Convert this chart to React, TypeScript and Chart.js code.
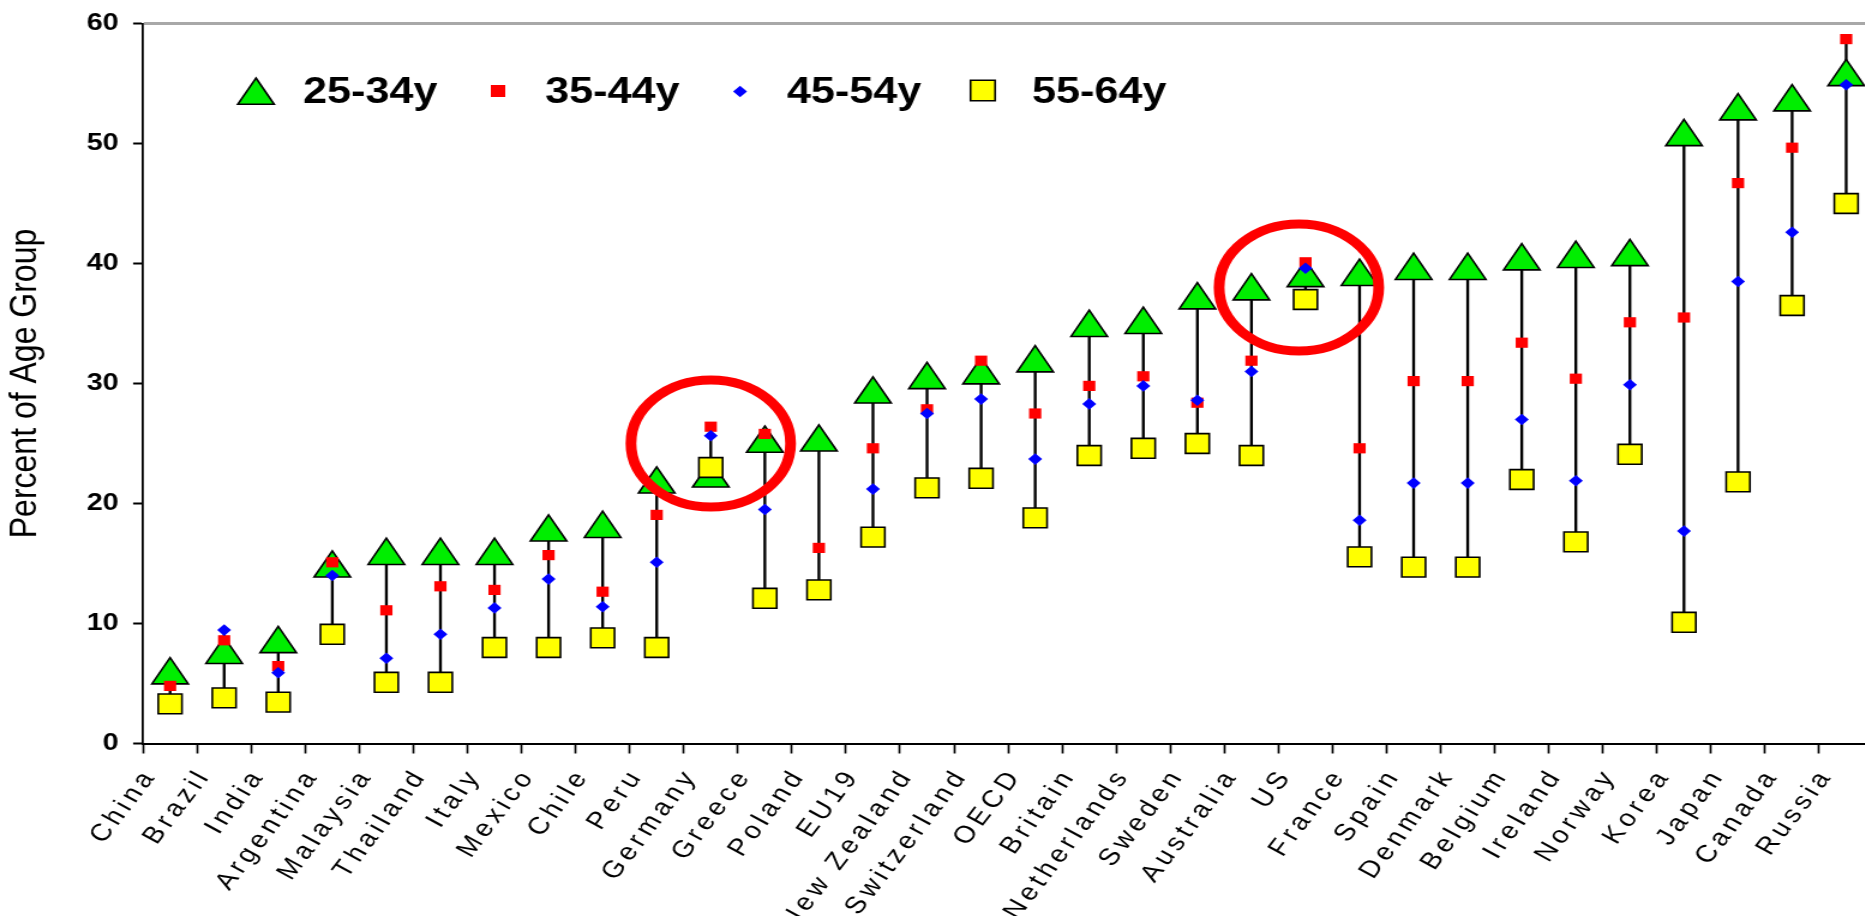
import React, { useEffect, useRef } from 'react';
import { Chart, registerables } from 'chart.js';

Chart.register(...registerables);

// ---------------- data ----------------
const categories = [
  'China', 'Brazil', 'India', 'Argentina', 'Malaysia', 'Thailand', 'Italy', 'Mexico',
  'Chile', 'Peru', 'Germany', 'Greece', 'Poland', 'EU19', 'New Zealand', 'Switzerland',
  'OECD', 'Britain', 'Netherlands', 'Sweden', 'Australia', 'US', 'France', 'Spain',
  'Denmark', 'Belgium', 'Ireland', 'Norway', 'Korea', 'Japan', 'Canada', 'Russia',
];

const seriesLabels = ['25-34y', '35-44y', '45-54y', '55-64y'];

const age25_34 = [
  5.7, 7.4, 8.3, 14.6, 15.65, 15.65, 15.65, 17.6,
  17.9, 21.6, 22.1, 25.0, 25.1, 29.1, 30.3, 30.7,
  31.7, 34.65, 34.9, 36.95, 37.7, 38.8, 38.9, 39.4,
  39.4, 40.2, 40.4, 40.55, 50.55, 52.7, 53.45, 55.55,
];

const age35_44 = [
  4.8, 8.6, 6.45, 15.1, 11.1, 13.1, 12.8, 15.7,
  12.65, 19.05, 26.4, 25.8, 16.3, 24.6, 27.85, 31.9,
  27.5, 29.8, 30.6, 28.4, 31.9, 40.1, 24.6, 30.2,
  30.2, 33.4, 30.4, 35.1, 35.5, 46.7, 49.65, 58.7,
];

const age45_54 = [
  3.6, 9.45, 5.9, 14.0, 7.1, 9.1, 11.3, 13.7,
  11.4, 15.1, 25.65, 19.5, 12.5, 21.2, 27.5, 28.7,
  23.7, 28.3, 29.8, 28.6, 31.0, 39.6, 18.6, 21.7,
  21.7, 27.0, 21.9, 29.9, 17.7, 38.5, 42.6, 54.9,
];

const age55_64 = [
  3.3, 3.8, 3.45, 9.1, 5.1, 5.1, 8.0, 8.0,
  8.8, 8.0, 23.0, 12.1, 12.8, 17.2, 21.3, 22.1,
  18.8, 24.0, 24.6, 25.0, 24.0, 37.0, 15.55, 14.7,
  14.7, 22.0, 16.8, 24.1, 10.1, 21.8, 36.5, 45.0,
];

const yTicks = [0, 10, 20, 30, 40, 50, 60];

// highlighted (circled) categories and the value at the centre of each circle
const highlightCategories = ['Germany', 'US'];
const highlightCentres = [25, 38];

// ---------------- layout / style ----------------
const FULL_W = 1865;
const H = 916;
const STRETCH = 1.2;
const CW = 1561;
const PLOT_LEFT = 119.2;
const PLOT_TOP = 23.5;
const PLOT_BOTTOM = 743.5;
const FONT = "'Liberation Sans', Arial, sans-serif";

type MarkerStyle = 'triangle' | 'rect' | 'rectRot';

const markerStyles: { style: MarkerStyle; r: number; legendR: number; fill: string; border: string; bw: number }[] = [
  { style: 'triangle', r: 17.5, legendR: 17.5, fill: '#00ee00', border: '#000000', bw: 1.6 },
  { style: 'rect', r: 7.2, legendR: 8.5, fill: '#ff0000', border: '#ff0000', bw: 0 },
  { style: 'rectRot', r: 5.8, legendR: 5.8, fill: '#0000ff', border: '#0000ff', bw: 0 },
  { style: 'rect', r: 14, legendR: 14.5, fill: '#ffff00', border: '#000000', bw: 1.6 },
];

// legend item geometry (unstretched canvas px)
const legendMarkerPos = [
  { x: 213.3, y: 95.5 },
  { x: 415, y: 91 },
  { x: 616.7, y: 91.5 },
  { x: 819, y: 90.5 },
];
const legendTextX = [252.5, 454.2, 655.8, 860];
const LEGEND_BASELINE = 103;

const RING_RX = 66.5;
const RING_RY = 63.5;
const RING_WIDTH = 9;
const RING_X_SHIFT = [0, -5.5];

function drawMarker(
  ctx: CanvasRenderingContext2D,
  style: MarkerStyle,
  x: number,
  y: number,
  r: number,
  fill: string,
  stroke: string,
  lw: number,
) {
  ctx.beginPath();
  if (style === 'triangle') {
    ctx.moveTo(x, y - r);
    ctx.lineTo(x + r * Math.sin((2 * Math.PI) / 3), y - r * Math.cos((2 * Math.PI) / 3));
    ctx.lineTo(x - r * Math.sin((2 * Math.PI) / 3), y - r * Math.cos((2 * Math.PI) / 3));
    ctx.closePath();
  } else if (style === 'rect') {
    const s = r * Math.SQRT1_2;
    ctx.rect(x - s, y - s, 2 * s, 2 * s);
  } else {
    ctx.moveTo(x - r, y);
    ctx.lineTo(x, y - r);
    ctx.lineTo(x + r, y);
    ctx.lineTo(x, y + r);
    ctx.closePath();
  }
  ctx.fillStyle = fill;
  ctx.fill();
  if (lw > 0) {
    ctx.strokeStyle = stroke;
    ctx.lineWidth = lw;
    ctx.stroke();
  }
}

const rings = {
  id: 'rings',
  afterDatasetsDraw(chart: any) {
    const ctx: CanvasRenderingContext2D = chart.ctx;
    const xs = chart.scales.x;
    const ys = chart.scales.y;
    ctx.save();
    ctx.strokeStyle = '#ff0000';
    ctx.lineWidth = RING_WIDTH;
    highlightCategories.forEach((cat, i) => {
      const idx = categories.indexOf(cat);
      const cx = xs.getPixelForValue(idx) + RING_X_SHIFT[i];
      const cy = ys.getPixelForValue(highlightCentres[i]);
      ctx.beginPath();
      ctx.ellipse(cx, cy, RING_RX, RING_RY, 0, 0, Math.PI * 2);
      ctx.stroke();
    });
    ctx.restore();
  },
};

const insideLegend = {
  id: 'insideLegend',
  afterDraw(chart: any) {
    const ctx: CanvasRenderingContext2D = chart.ctx;
    ctx.save();
    seriesLabels.forEach((label, i) => {
      const m = markerStyles[i];
      const p = legendMarkerPos[i];
      drawMarker(ctx, m.style, p.x, p.y, m.legendR, m.fill, m.border, m.bw);
      ctx.fillStyle = '#000';
      ctx.font = `bold 36px ${FONT}`;
      ctx.textAlign = 'left';
      ctx.textBaseline = 'alphabetic';
      ctx.fillText(label, legendTextX[i], LEGEND_BASELINE);
    });
    ctx.restore();
  },
};

const xLabelSpacing = {
  id: 'xLabelSpacing',
  afterLayout(chart: any) {
    const s = chart.scales.x;
    if (s && !s.__spaced) {
      const orig = s.drawLabels;
      s.drawLabels = function (area: any) {
        const ctx = this.ctx;
        const prev = ctx.letterSpacing;
        ctx.letterSpacing = '4px';
        orig.call(this, area);
        ctx.letterSpacing = prev || '0px';
      };
      s.__spaced = true;
    }
  },
};

export default function App() {
  const ref = useRef<HTMLCanvasElement>(null);

  useEffect(() => {
    if (!ref.current) return;
    Chart.defaults.font.family = FONT;
    Chart.defaults.color = '#000';

    const seriesData = [age25_34, age35_44, age45_54, age55_64];
    const ranges = categories.map((_, i) => {
      const vals = seriesData.map((s) => s[i]);
      return [Math.min(...vals), Math.max(...vals)];
    });

    // draw order: range line bottom, then triangles, red, blue, yellow on top
    const orders = [4, 3, 2, 1];

    const pointSets = seriesData.map((data, i) => {
      const m = markerStyles[i];
      return {
        type: 'line' as const,
        label: seriesLabels[i],
        data,
        showLine: false,
        pointStyle: m.style,
        pointRadius: m.r,
        pointHoverRadius: m.r,
        pointBackgroundColor: m.fill,
        pointBorderColor: m.border,
        pointBorderWidth: m.bw,
        pointHoverBorderWidth: m.bw,
        order: orders[i],
        clip: false as any,
      };
    });

    const chart = new Chart(ref.current, {
      type: 'line',
      data: {
        labels: categories,
        datasets: [
          {
            type: 'bar' as const,
            label: 'range',
            data: ranges as any,
            backgroundColor: '#000',
            borderWidth: 0,
            barThickness: 1.7,
            order: 5,
          } as any,
          ...pointSets,
        ],
      },
      options: {
        responsive: false,
        animation: false,
        events: [],
        layout: { autoPadding: false, padding: { top: PLOT_TOP, left: 0, right: 0, bottom: 0 } },
        plugins: {
          legend: { display: false },
          tooltip: { enabled: false },
        },
        scales: {
          x: {
            type: 'category',
            offset: true,
            grid: {
              offset: true,
              drawOnChartArea: false,
              drawTicks: true,
              tickLength: 10,
              tickColor: '#000',
              tickWidth: 1.7,
            },
            border: { display: true, color: '#000', width: 2 },
            ticks: {
              autoSkip: false,
              minRotation: 57,
              maxRotation: 57,
              padding: 10,
              labelOffset: -16,
              color: '#000',
              font: { family: FONT, size: 24 },
            },
            afterFit: (s: any) => {
              s.height = H - PLOT_BOTTOM;
              s.paddingLeft = 0;
              s.paddingRight = 0;
            },
          },
          y: {
            type: 'linear',
            min: 0,
            max: 60,
            afterBuildTicks: (s: any) => {
              s.ticks = yTicks.map((v) => ({ value: v }));
            },
            grid: {
              drawOnChartArea: true,
              drawTicks: true,
              tickLength: 8.3,
              tickColor: '#000',
              tickWidth: 2,
              color: (c: any) => (c.tick && c.tick.value === 60 ? '#a8a8a8' : 'rgba(0,0,0,0)'),
              lineWidth: (c: any) => (c.tick && c.tick.value === 60 ? 3 : 1),
            },
            border: { display: true, color: '#000', width: 1.8 },
            ticks: {
              padding: 12,
              color: '#000',
              font: { family: FONT, size: 24, weight: 'bold' },
            },
            title: {
              display: true,
              text: 'Percent of Age Group',
              color: '#000',
              font: { family: FONT, size: 32 },
              padding: { top: 2.4, bottom: 0 },
            },
            afterFit: (s: any) => {
              s.width = PLOT_LEFT;
              s.paddingTop = 0;
              s.paddingBottom = 0;
            },
          },
        },
      } as any,
      plugins: [rings, insideLegend, xLabelSpacing],
    });

    return () => chart.destroy();
  }, []);

  return (
    <div
      style={{
        position: 'absolute',
        left: 0,
        top: 0,
        width: FULL_W,
        height: H,
        overflow: 'hidden',
        background: '#fff',
      }}
    >
      <div
        style={{
          width: CW,
          height: H,
          transform: `scaleX(${STRETCH})`,
          transformOrigin: '0 0',
        }}
      >
        <canvas ref={ref} width={CW} height={H} style={{ display: 'block' }} />
      </div>
    </div>
  );
}
